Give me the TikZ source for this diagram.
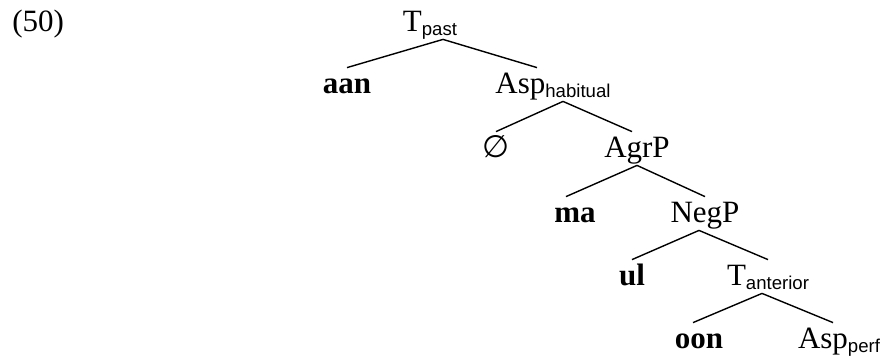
\documentclass[tikz,border=0pt]{standalone}
\usepackage{fontspec}
\setmainfont{Liberation Serif}
\newfontfamily\subfont{Liberation Sans}
\newfontfamily\symfont{DejaVu Sans}
\newcommand{\treesize}{\fontsize{15.5pt}{18pt}\selectfont}
\newcommand{\lsub}[1]{\raisebox{-2pt}{\fontsize{9.3pt}{10pt}\subfont #1}}
\tikzset{
  cat/.style={anchor=base, inner xsep=0pt, inner ysep=2pt, text height=10.5pt, text depth=2pt, font=\treesize},
  lex/.style={cat, font=\treesize\bfseries},
  branch/.style={line width=0.7pt},
}
\begin{document}
\begin{tikzpicture}[x=0.5pt, y=-0.5pt]
  \useasboundingbox (0,0) rectangle (887,360);
  \node[cat, anchor=base west] (ex) at (12,31) {(50)};
  \node[cat] (tpast) at (430,31) {T\lsub{past}};
  \node[lex] (aan) at (347,93) {aan};
  \node[cat] (asphab) at (553,93) {Asp\lsub{habitual}};
  \node[cat] (empty) at (496,157) {\symfont ∅};
  \node[cat] (agrp) at (637,157) {AgrP};
  \node[lex] (ma) at (575,222) {ma};
  \node[cat] (negp) at (705,222) {NegP};
  \node[lex] (ul) at (632,285) {ul};
  \node[cat] (tant) at (768,285) {T\lsub{anterior}};
  \node[lex] (oon) at (699,348) {oon};
  \node[cat] (aspperf) at (839,348) {Asp\lsub{perf}};
  \draw[branch] ([xshift=6.5pt]tpast.south) -- (aan.north);
  \draw[branch] ([xshift=6.5pt]tpast.south) -- ([xshift=-8pt]asphab.north);
  \draw[branch] ([xshift=5pt]asphab.south) -- (empty.north);
  \draw[branch] ([xshift=5pt]asphab.south) -- ([xshift=-2.5pt]agrp.north);
  \draw[branch] (agrp.south) -- ([xshift=-4.5pt]ma.north);
  \draw[branch] (agrp.south) -- (negp.north);
  \draw[branch] ([xshift=-3pt]negp.south) -- (ul.north);
  \draw[branch] ([xshift=-3pt]negp.south) -- (tant.north);
  \draw[branch] ([xshift=-3pt]tant.south) -- ([xshift=-3pt]oon.north);
  \draw[branch] ([xshift=-3pt]tant.south) -- ([xshift=-3pt]aspperf.north);
\end{tikzpicture}
\end{document}
